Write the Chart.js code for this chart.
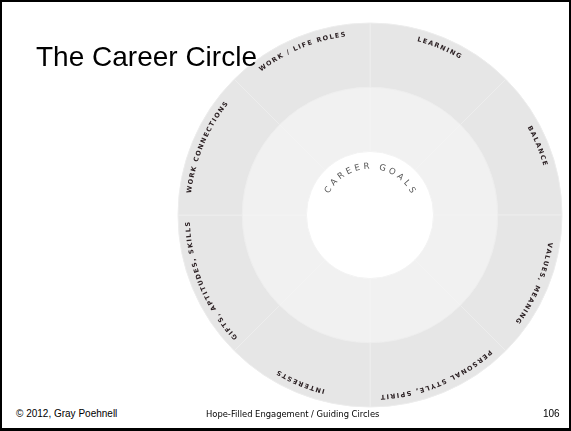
<!DOCTYPE html>
<html lang="en">
<head>
    <meta charset="UTF-8">
    <title>The Career Circle</title>
    <script src="https://cdn.jsdelivr.net/npm/chart.js"></script>
    <style>
        body {
            margin: 0;
            background: #ffffff;
            font-family: "Liberation Sans", Arial, sans-serif;
        }
        #slide {
            position: relative;
            width: 571px;
            height: 431px;
            box-sizing: border-box;
            border: 2px solid #000000;
            border-bottom-width: 3px;
            overflow: hidden;
            background: #ffffff;
        }
        #chart-box {
            position: absolute;
            left: 168px;
            top: 13px;
            width: 400px;
            height: 400px;
        }
        #title {
            position: absolute;
            left: 34px;
            top: 41px;
            font-size: 28px;
            line-height: 27px;
            color: #000000;
            z-index: 2;
            white-space: nowrap;
        }
        .foot {
            position: absolute;
            top: 407px;
            font-size: 10px;
            line-height: 10px;
            color: #000000;
            white-space: nowrap;
            z-index: 2;
        }
        #foot-center {
            font-family: "DejaVu Sans Condensed", "DejaVu Sans", sans-serif;
            font-size: 9.3px;
        }
    </style>
</head>
<body>
    <div id="slide">
        <div id="chart-box"><canvas id="careerChart"></canvas></div>
        <div id="title">The Career Circle</div>
        <div class="foot" style="left:14px;">© 2012, Gray Poehnell</div>
        <div class="foot" id="foot-center" style="left:204px;">Hope-Filled Engagement / Guiding Circles</div>
        <div class="foot" style="left:541px;">106</div>
    </div>

    <script>
        // sections clockwise from the top
        const sections = ['LEARNING', 'BALANCE', 'VALUES, MEANING', 'PERSONAL STYLE, SPIRIT',
                          'INTERESTS', 'GIFTS, APTITUDES, SKILLS', 'WORK CONNECTIONS', 'WORK / LIFE ROLES'];
        const outerValues = [1, 1, 1, 1, 1, 1, 1, 1];
        const innerValues = [1, 1, 1, 1, 1, 1, 1, 1];
        const centerLabel = 'CAREER GOALS';

        function drawArcText(ctx, text, cx, cy, r, mid, spacing) {
            const chars = [...text];
            const widths = chars.map(ch => ctx.measureText(ch).width);
            const total = widths.reduce((a, b) => a + b, 0) + spacing * (chars.length - 1);
            let a = mid - total / r / 2;
            ctx.textAlign = 'center';
            ctx.textBaseline = 'middle';
            chars.forEach((ch, k) => {
                const ang = a + (widths[k] / 2) / r;
                ctx.save();
                ctx.translate(cx + r * Math.cos(ang), cy + r * Math.sin(ang));
                ctx.rotate(ang + Math.PI / 2);
                ctx.fillText(ch, 0, 0);
                ctx.restore();
                a += (widths[k] + spacing) / r;
            });
        }

        const arcLabels = {
            id: 'arcLabels',
            afterDatasetsDraw(chart) {
                const ctx = chart.ctx;
                const outer = chart.getDatasetMeta(0);
                const inner = chart.getDatasetMeta(1);
                ctx.save();
                ctx.fillStyle = '#2b2023';
                ctx.font = 'bold 6.5px "DejaVu Sans"';
                outer.data.forEach((arc, i) => {
                    const mid = (arc.startAngle + arc.endAngle) / 2;
                    drawArcText(ctx, chart.data.labels[i], arc.x, arc.y, arc.outerRadius - 10, mid, 1.4);
                });
                const c = inner.data[0];
                ctx.fillStyle = '#555555';
                ctx.font = '8.5px "DejaVu Sans"';
                drawArcText(ctx, centerLabel, c.x, c.y, c.innerRadius - 15, -Math.PI / 2, 3.6);
                ctx.restore();
            }
        };

        new Chart(document.getElementById('careerChart'), {
            type: 'doughnut',
            data: {
                labels: sections,
                datasets: [
                    {
                        data: outerValues,
                        backgroundColor: '#e6e6e6',
                        borderColor: '#ededed',
                        borderWidth: 1,
                        weight: 63
                    },
                    {
                        data: innerValues,
                        backgroundColor: '#f1f1f1',
                        borderColor: '#f3f3f3',
                        borderWidth: 1,
                        weight: 63
                    }
                ]
            },
            options: {
                responsive: true,
                maintainAspectRatio: false,
                animation: false,
                events: [],
                radius: 192,
                cutout: 66,
                layout: { padding: 0 },
                plugins: {
                    legend: { display: false },
                    tooltip: { enabled: false }
                }
            },
            plugins: [arcLabels]
        });
    </script>
</body>
</html>
